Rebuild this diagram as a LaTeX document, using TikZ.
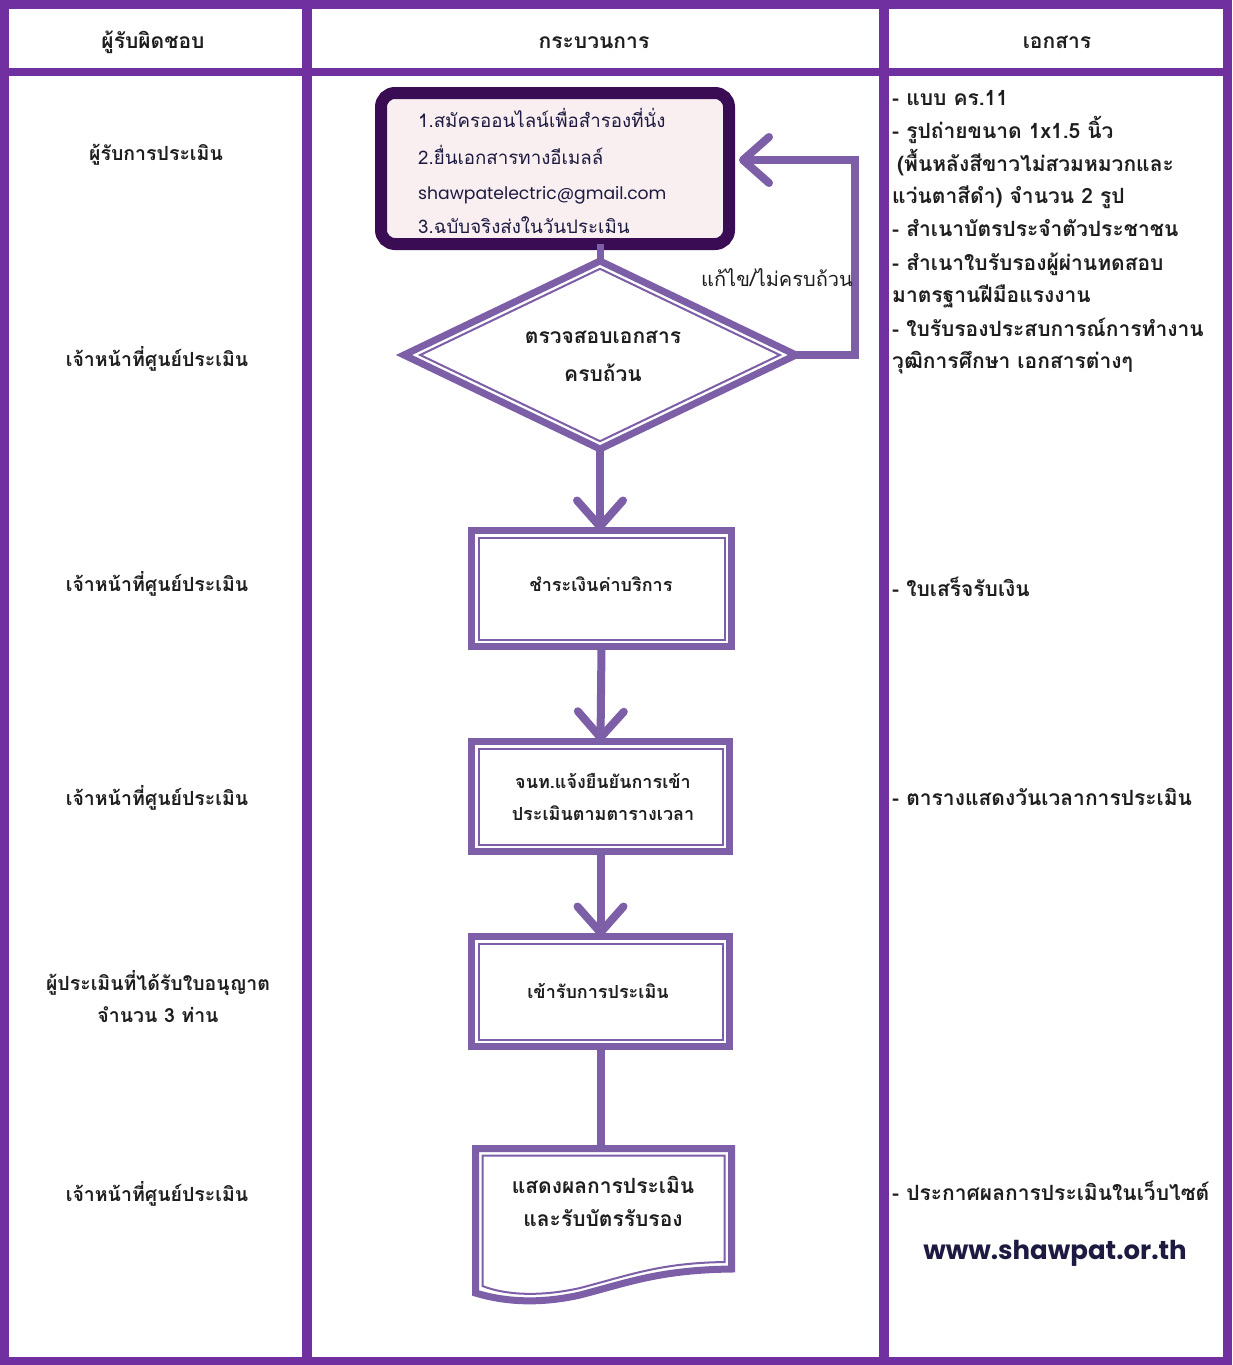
\documentclass[tikz,border=0pt]{standalone}
\usepackage{fontspec}
\setmainfont{Loma}[Script=Thai]
\newfontfamily\latinf{Poppins}
\usetikzlibrary{shapes.geometric,arrows.meta,calc}
\definecolor{framec}{RGB}{112,48,160}
\definecolor{lav}{RGB}{125,95,168}
\definecolor{darkp}{RGB}{58,12,84}
\definecolor{pinkf}{RGB}{249,239,241}
\definecolor{txt}{RGB}{30,30,30}
\definecolor{navy}{RGB}{28,26,64}
\begin{document}
\begin{tikzpicture}[x=1pt,y=1pt,
  hdr/.style={font=\bfseries\fontsize{21}{24}\selectfont, text=txt, anchor=base, inner sep=0},
  role/.style={font=\bfseries\fontsize{19.5}{22}\selectfont, text=txt, anchor=base, inner sep=0},
  doctxt/.style={font=\bfseries\fontsize{21}{24}\selectfont, text=txt, anchor=base west, inner sep=0},
  boxtxt/.style={font=\fontsize{18.7}{20}\selectfont, text=navy, anchor=base west, inner sep=0},
  flowtxt/.style={font=\bfseries\fontsize{18}{22}\selectfont, text=txt, anchor=base, inner sep=0},
  bigflowtxt/.style={flowtxt, font=\bfseries\fontsize{21}{24}\selectfont},
  flowbox/.style={draw=lav, line width=7pt, fill=white, outer sep=0, inner sep=0},
  innerline/.style={draw=lav, line width=2pt},
  flow/.style={draw=lav, line width=8pt},
  chev/.tip={Straight Barb[length=26pt,width=46pt,round]},
  framel/.style={draw=framec}
]
\useasboundingbox (0,0) rectangle (1232,-1365);
\fill[white] (0,0) rectangle (1232,-1365);

% ---------- frame ----------
\draw[framel, line width=9pt] (4.5,-4) rectangle (1227.5,-1361);
\draw[framel, line width=8pt] (0,-71.5) -- (1232,-71.5);
\draw[framel, line width=10pt] (307,0) -- (307,-1365);
\draw[framel, line width=10pt] (884,0) -- (884,-1365);

% ---------- header ----------
\node[hdr] (h1) at (153,-48) {ผู้รับผิดชอบ};
\node[hdr] (h2) at (594,-48) {กระบวนการ};
\node[hdr] (h3) at (1057,-48) {เอกสาร};

% ---------- roles ----------
\node[role] (r1) at (156,-160) {ผู้รับการประเมิน};
\node[role] (r2) at (157,-366) {เจ้าหน้าที่ศูนย์ประเมิน};
\node[role] (r3) at (157,-591) {เจ้าหน้าที่ศูนย์ประเมิน};
\node[role] (r4) at (157,-805) {เจ้าหน้าที่ศูนย์ประเมิน};
\node[role] (r5a) at (158,-990) {ผู้ประเมินที่ได้รับใบอนุญาต};
\node[role] (r5b) at (158,-1022) {จำนวน 3 ท่าน};
\node[role] (r6) at (157,-1201) {เจ้าหน้าที่ศูนย์ประเมิน};

% ---------- process ----------
\node[draw=darkp, fill=pinkf, line width=12pt, rounded corners=14pt,
      minimum width=348, minimum height=151, outer sep=0, inner sep=0] (b1) at (555,-168.5) {};
\node[boxtxt] (b1t1) at (418,-127) {1.สมัครออนไลน์เพื่อสำรองที่นั่ง};
\node[boxtxt] (b1t2) at (418,-164) {2.ยื่นเอกสารทางอีเมลล์};
\node[boxtxt, font=\latinf\fontsize{17.2}{20}\selectfont] (b1t3) at (418,-199) {shawpatelectric@gmail.com};
\node[boxtxt] (b1t4) at (418,-233) {3.ฉบับจริงส่งในวันประเมิน};

\node[flowbox, shape=diamond, minimum width=392, minimum height=188] (d) at (600,-355) {};
\draw[innerline] ($(d.north)+(0,-7.8)$) -- ($(d.east)+(-16.2,0)$) -- ($(d.south)+(0,7.8)$) -- ($(d.west)+(16.2,0)$) -- cycle;
\node[bigflowtxt] (dt1) at (603,-343) {ตรวจสอบเอกสาร};
\node[bigflowtxt] (dt2) at (603,-381) {ครบถ้วน};

\node[flowbox, minimum width=260, minimum height=116] (b2) at (601.5,-588.5) {};
\draw[innerline] ($(b2.north west)+(7,-7)$) rectangle ($(b2.south east)+(-7,7)$);
\node[flowtxt] (b2t) at (601,-591) {ชำระเงินค่าบริการ};

\node[flowbox, minimum width=258, minimum height=110] (b3) at (600.5,-796.5) {};
\draw[innerline] ($(b3.north west)+(7,-7)$) rectangle ($(b3.south east)+(-7,7)$);
\node[flowtxt] (b3t1) at (603,-788) {จนท.แจ้งยืนยันการเข้า};
\node[flowtxt] (b3t2) at (603,-820) {ประเมินตามตารางเวลา};

\node[flowbox, minimum width=258, minimum height=110] (b4) at (600.5,-991.5) {};
\draw[innerline] ($(b4.north west)+(7,-7)$) rectangle ($(b4.south east)+(-7,7)$);
\node[flowtxt] (b4t) at (598,-998) {เข้ารับการประเมิน};

% document shape
\node[minimum width=256, minimum height=120, inner sep=0, outer sep=0] (doc) at (603.5,-1208.5) {};
\draw[lav, line width=7pt, fill=white, line join=miter]
  (doc.north west) -- (doc.north east) -- (731.5,-1269)
  .. controls (660,-1270) and (630,-1282) .. (580,-1295)
  .. controls (540,-1304) and (505,-1302) .. (475.5,-1293) -- cycle;
\draw[innerline]
  (482.5,-1155.5) -- (724.5,-1155.5) -- (724.5,-1262)
  .. controls (660,-1263) and (630,-1275) .. (580,-1288)
  .. controls (540,-1297) and (505,-1295) .. (482.5,-1286) -- cycle;
\node[bigflowtxt] (doct1) at (603,-1193) {แสดงผลการประเมิน};
\node[bigflowtxt] (doct2) at (603,-1226) {และรับบัตรรับรอง};

% ---------- connectors ----------
\draw[lav, line width=7pt] (d.north) -- (d.north |- b1.south);
\coordinate (lp) at (855,-160);
\draw[flow, -chev] (d.east) -| (lp) -- ($(b1.east |- lp)+(10,0)$);
\node[font=\fontsize{20}{22}\selectfont, text=txt, anchor=base east, inner sep=0] (fix) at (853,-286) {แก้ไข/ไม่ครบถ้วน};
\draw[flow, -chev] (d.south) -- (d.south |- b2.north);
\draw[flow, -chev] (b2.south) -- (b3.north);
\draw[flow, -chev] (b3.south) -- (b4.north);
\draw[flow] (b4.south) -- (b4.south |- doc.north);

% ---------- documents column ----------
\node[doctxt] (a1) at (892,-105) {- แบบ คร.11};
\node[doctxt] (a2) at (892,-138) {- รูปถ่ายขนาด 1x1.5 นิ้ว};
\node[doctxt] (a3) at (897,-171) {(พื้นหลังสีขาวไม่สวมหมวกและ};
\node[doctxt] (a4) at (892,-203) {แว่นตาสีดำ) จำนวน 2 รูป};
\node[doctxt] (a5) at (892,-236) {- สำเนาบัตรประจำตัวประชาชน};
\node[doctxt] (a6) at (892,-270) {- สำเนาใบรับรองผู้ผ่านทดสอบ};
\node[doctxt] (a7) at (892,-302) {มาตรฐานฝีมือแรงงาน};
\node[doctxt] (a8) at (892,-336) {- ใบรับรองประสบการณ์การทำงาน};
\node[doctxt] (a9) at (892,-368) {วุฒิการศึกษา เอกสารต่างๆ};
\node[doctxt] (bb) at (892,-596) {- ใบเสร็จรับเงิน};
\node[doctxt] (cc) at (892,-805) {- ตารางแสดงวันเวลาการประเมิน};
\node[doctxt] (dd) at (892,-1200) {- ประกาศผลการประเมินในเว็บไซต์};
\node[font=\latinf\bfseries\fontsize{26}{30}\selectfont, text=navy, anchor=base, inner sep=0] (web) at (1055,-1259) {www.shawpat.or.th};
\end{tikzpicture}
\end{document}
